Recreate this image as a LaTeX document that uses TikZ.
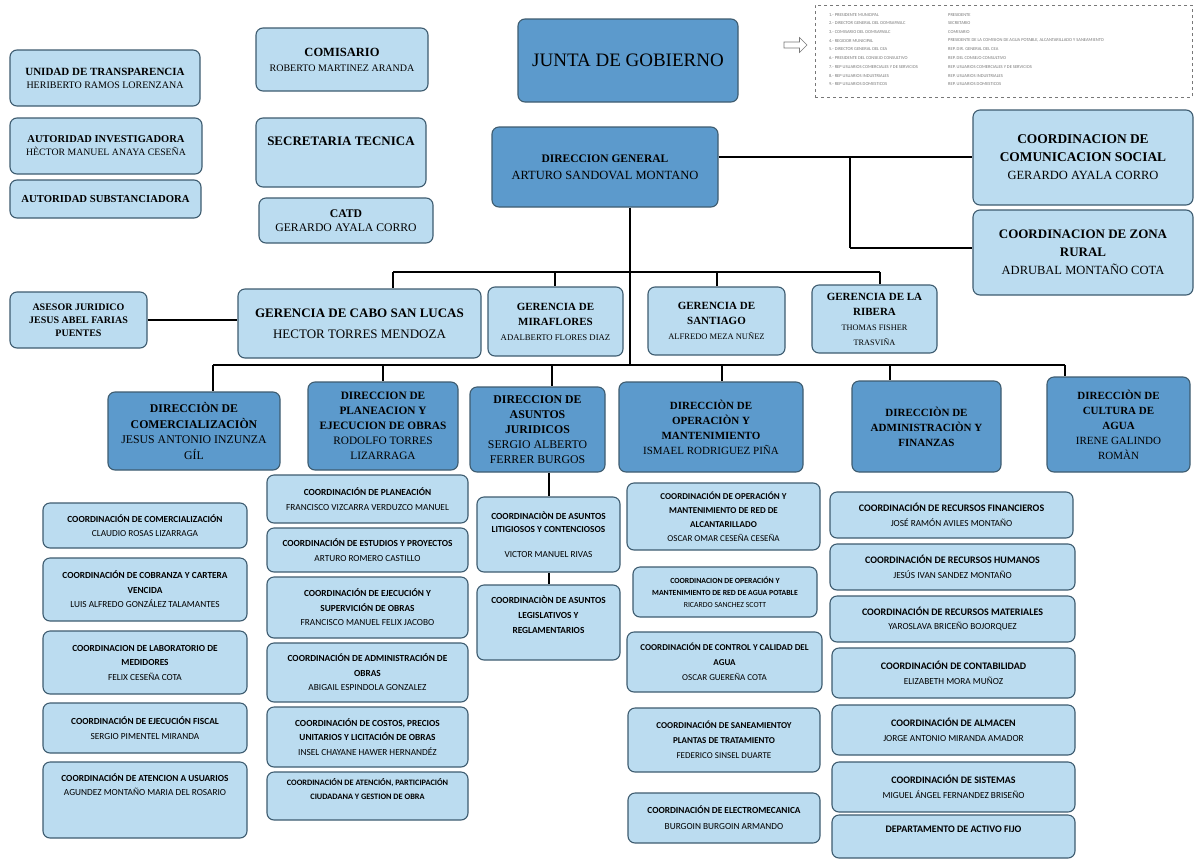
\documentclass[tikz,border=0pt]{standalone}
\usepackage{fontspec}
\setmainfont{Liberation Serif}
\newfontfamily\calfont{Carlito}
\usetikzlibrary{shapes.arrows}
\definecolor{lb}{RGB}{187,220,240}
\definecolor{db}{RGB}{92,154,204}
\definecolor{bd}{RGB}{62,92,112}
\definecolor{lg}{RGB}{120,120,120}
\newcommand\BX[7]{%
  \pgfmathsetmacro\bxw{#4-#2}\pgfmathsetmacro\bxh{#5-#3}%
  \pgfmathsetmacro\bxcx{(#2+#4)/2}\pgfmathsetmacro\bxcy{(#3+#5)/2}%
  \node[#6, minimum width=\bxw pt, minimum height=\bxh pt] (#1) at (\bxcx,\bxcy) {#7};}
\newcommand\FS[2]{\fontsize{#1}{#2}\selectfont}
\tikzset{
  base/.style={draw=bd, line width=1.1pt, rounded corners=7pt, align=center, inner sep=1pt},
  lbox/.style={base, fill=lb},
  dbox/.style={base, fill=db},
  cbox/.style={base, fill=lb, font=\calfont\FS{9.3}{14.5}},
  conn/.style={draw=black, line width=1.3pt},
  legtxt/.style={anchor=west, inner sep=0pt, text=lg, font=\calfont\FS{4.5}{5}},
}
\begin{document}
\begin{tikzpicture}[x=1pt,y=-1pt]
\fill[white] (0,0) rectangle (1195,863);
\useasboundingbox (0,0) rectangle (1195,863);

% coordinates for connectors
\coordinate (t1) at (630,272);
\coordinate (b1l) at (393,272);
\coordinate (b1r) at (880,272);
\coordinate (m1) at (555,272);
\coordinate (s1) at (717,272);
\coordinate (t2) at (630,365);
\coordinate (b2l) at (213,365);
\coordinate (b2r) at (1065,365);
\coordinate (d2) at (383,365);
\coordinate (d3) at (552,365);
\coordinate (d4) at (722,365);
\coordinate (d5) at (890,365);
\coordinate (cs1) at (850,157);
\coordinate (cs2) at (850,248);
\coordinate (jx) at (549,480);

% top-left
\BX{ut}{10}{50}{200}{106}{lbox, font=\FS{10}{13}}{{\FS{11}{13}\textbf{UNIDAD DE TRANSPARENCIA}}\\HERIBERTO RAMOS LORENZANA}
\BX{ai}{10}{118}{202}{174}{lbox, font=\FS{9.8}{13}}{{\FS{10.5}{13}\textbf{AUTORIDAD INVESTIGADORA}}\\HÈCTOR MANUEL ANAYA CESEÑA}
\BX{as}{10}{180}{201}{218}{lbox, font=\FS{10.7}{12}}{\textbf{AUTORIDAD SUBSTANCIADORA}}

\BX{com}{256}{28}{428}{91}{lbox, font=\FS{12.5}{15}}{\textbf{COMISARIO}\\{\FS{10}{11}ROBERTO MARTINEZ ARANDA}}
\BX{sec}{256}{118}{426}{187}{lbox, font=\FS{13}{15}}{\textbf{SECRETARIA TECNICA}\\\rule{0pt}{22pt}}
\BX{catd}{259}{198}{433}{243}{lbox, font=\FS{11.7}{14}}{\textbf{CATD}\\GERARDO AYALA CORRO}

\BX{junta}{518}{19}{738}{102}{dbox, font=\FS{19}{21}}{JUNTA DE GOBIERNO}
\node[single arrow, draw=lg, line width=0.6pt, fill=white, minimum height=23pt, minimum width=15pt, single arrow head extend=2pt, inner sep=1pt] (arr) at (794,45) {};
\node[draw=lg, dashed, line width=0.5pt, fill=white, minimum width=377pt, minimum height=92pt, inner sep=0pt] (leg) at (1003.5,51) {};
\foreach \t [count=\i] in {1.- PRESIDENTE MUNICIPAL, 2.- DIRECTOR GENERAL DEL OOMSAPASLC, 3.- COMISARIO DEL OOMSAPASLC, 4.- REGIDOR MUNICIPAL, 5.- DIRECTOR GENERAL DEL CEA, 6.- PRESIDENTE DEL CONSEJO CONSULTIVO, 7.- REP USUARIOS COMERCIALES Y DE SERVICIOS, 8.- REP USUARIOS INDUSTRIALES, 9.- REP USUARIOS DOMESTICOS}
  \node[legtxt] (ll\i) at (829,6+8.7*\i) {\t};
\foreach \t [count=\i] in {PRESIDENTE, SECRETARIO, COMISARIO, {PRESIDENTE DE LA COMISION DE AGUA POTABLE, ALCANTARILLADO Y SANEAMIENTO}, REP. DIR. GENERAL DEL CEA, REP. DEL CONSEJO CONSULTIVO, REP. USUARIOS COMERCIALES Y DE SERVICIOS, REP. USUARIOS INDUSTRIALES, REP. USUARIOS DOMESTICOS}
  \node[legtxt] (lr\i) at (948,6+8.7*\i) {\t};

\BX{dg}{492}{127}{718}{207}{dbox, font=\FS{12.5}{17}}{{\FS{11.5}{17}\textbf{DIRECCION GENERAL}}\\ARTURO SANDOVAL MONTANO}
\BX{ccs}{973}{110}{1193}{205}{lbox, font=\FS{12.5}{18}}{{\FS{13.4}{18}\textbf{COORDINACION DE}}\\{\FS{13.4}{18}\textbf{COMUNICACION SOCIAL}}\\GERARDO AYALA CORRO}
\BX{czr}{973}{210}{1193}{295}{lbox, font=\FS{12.5}{18}}{{\FS{13}{18}\textbf{COORDINACION DE ZONA}}\\{\FS{13}{18}\textbf{RURAL}}\\ADRUBAL MONTAÑO COTA}

% gerencias
\BX{aj}{10}{292}{147}{348}{lbox, font=\FS{10}{13}}{\textbf{ASESOR JURIDICO}\\\textbf{JESUS ABEL FARIAS}\\\textbf{PUENTES}}
\BX{gcsl}{238}{289}{481}{358}{lbox, font=\FS{13}{21}}{\textbf{GERENCIA DE CABO SAN LUCAS}\\HECTOR TORRES MENDOZA}
\BX{gmf}{488}{287}{623}{356}{lbox, font=\FS{11}{15}}{\textbf{GERENCIA DE}\\\textbf{MIRAFLORES}\\{\FS{8.7}{12}ADALBERTO FLORES DIAZ}}
\BX{gsa}{648}{287}{785}{355}{lbox, font=\FS{11}{15}}{\textbf{GERENCIA DE}\\\textbf{SANTIAGO}\\{\FS{8.5}{12}ALFREDO MEZA NUÑEZ}}
\BX{grb}{812}{285}{937}{353}{lbox, font=\FS{11}{15}}{\textbf{GERENCIA DE LA}\\\textbf{RIBERA}\\{\FS{8.3}{12}THOMAS FISHER}\\{\FS{8.3}{11}TRASVIÑA}}

% direcciones
\BX{dcom}{108}{392}{280}{470}{dbox, font=\FS{11.8}{15.5}}{\textbf{DIRECCIÒN DE}\\\textbf{COMERCIALIZACIÒN}\\JESUS ANTONIO INZUNZA\\GÍL}
\BX{dpl}{308}{382}{458}{470}{dbox, font=\FS{11.3}{15}}{\textbf{DIRECCION DE}\\\textbf{PLANEACION Y}\\\textbf{EJECUCION DE OBRAS}\\RODOLFO TORRES\\LIZARRAGA}
\BX{daj}{470}{387}{605}{472}{dbox, font=\FS{11.8}{15}}{\textbf{DIRECCION DE}\\\textbf{ASUNTOS}\\\textbf{JURIDICOS}\\SERGIO ALBERTO\\FERRER BURGOS}
\BX{dop}{619}{382}{803}{472}{dbox, font=\FS{11}{15}}{\textbf{DIRECCIÒN DE}\\\textbf{OPERACIÒN Y}\\\textbf{MANTENIMIENTO}\\ISMAEL RODRIGUEZ PIÑA}
\BX{dad}{852}{381}{1001}{472}{dbox, font=\FS{11}{15}}{\textbf{DIRECCIÒN DE}\\\textbf{ADMINISTRACIÒN Y}\\\textbf{FINANZAS}}
\BX{dcu}{1047}{377}{1190}{472}{dbox, font=\FS{11}{15}}{\textbf{DIRECCIÒN DE}\\\textbf{CULTURA DE}\\\textbf{AGUA}\\IRENE GALINDO\\ROMÀN}

% comercializacion column
\BX{c1}{43}{503}{247}{548}{cbox}{\textbf{COORDINACIÓN DE COMERCIALIZACIÓN}\\CLAUDIO ROSAS LIZARRAGA}
\BX{c2}{43}{558}{247}{621}{cbox}{\textbf{COORDINACIÓN DE COBRANZA Y CARTERA}\\\textbf{VENCIDA}\\LUIS ALFREDO GONZÁLEZ TALAMANTES}
\BX{c3}{43}{631}{247}{694}{cbox}{\textbf{COORDINACION DE LABORATORIO DE}\\\textbf{MEDIDORES}\\FELIX CESEÑA COTA}
\BX{c4}{43}{703}{247}{753}{cbox}{\textbf{COORDINACIÓN DE EJECUCIÓN FISCAL}\\SERGIO PIMENTEL MIRANDA}
\BX{c5}{43}{762}{247}{838}{cbox}{\textbf{COORDINACIÓN DE ATENCION A USUARIOS}\\AGUNDEZ MONTAÑO MARIA DEL ROSARIO\\\rule{0pt}{30pt}}

% planeacion column
\BX{p1}{267}{475}{468}{523}{cbox}{\textbf{COORDINACIÓN DE PLANEACIÓN}\\FRANCISCO VIZCARRA VERDUZCO MANUEL}
\BX{p2}{267}{528}{468}{572}{cbox}{\textbf{COORDINACIÓN DE ESTUDIOS Y PROYECTOS}\\ARTURO ROMERO CASTILLO}
\BX{p3}{267}{577}{468}{638}{cbox}{\textbf{COORDINACIÓN DE EJECUCIÓN Y}\\\textbf{SUPERVICIÓN DE OBRAS}\\FRANCISCO MANUEL FELIX JACOBO}
\BX{p4}{267}{643}{468}{702}{cbox}{\textbf{COORDINACIÓN DE ADMINISTRACIÓN DE}\\\textbf{OBRAS}\\ABIGAIL ESPINDOLA GONZALEZ}
\BX{p5}{267}{707}{468}{767}{cbox}{\textbf{COORDINACIÓN DE COSTOS, PRECIOS}\\\textbf{UNITARIOS Y LICITACIÓN DE OBRAS}\\INSEL CHAYANE HAWER HERNANDÉZ}
\BX{p6}{267}{772}{468}{820}{cbox, font=\calfont\FS{8.3}{14}}{\textbf{COORDINACIÓN DE ATENCIÓN, PARTICIPACIÓN}\\\textbf{CIUDADANA Y GESTION DE OBRA}\\\rule{0pt}{8pt}}

% juridicos column
\BX{j1}{477}{497}{620}{572}{cbox, font=\calfont\FS{9.3}{13}}{\textbf{COORDINACIÒN DE ASUNTOS}\\\textbf{LITIGIOSOS Y CONTENCIOSOS}\\[12pt]VICTOR MANUEL RIVAS}
\BX{j2}{477}{585}{620}{660}{cbox, font=\calfont\FS{9.3}{15}}{\textbf{COORDINACIÒN DE ASUNTOS}\\\textbf{LEGISLATIVOS Y}\\\textbf{REGLAMENTARIOS}\\\rule{0pt}{8pt}}

% operacion column
\BX{o1}{627}{483}{820}{550}{cbox, font=\calfont\FS{9}{14}}{\textbf{COORDINACIÓN DE OPERACIÓN Y}\\\textbf{MANTENIMIENTO DE RED DE}\\\textbf{ALCANTARILLADO}\\OSCAR OMAR CESEÑA CESEÑA}
\BX{o2}{633}{567}{817}{617}{cbox, font=\calfont\FS{7.8}{12}}{\textbf{COORDINACION DE OPERACIÓN Y}\\\textbf{MANTENIMIENTO DE RED DE AGUA POTABLE}\\RICARDO SANCHEZ SCOTT}
\BX{o3}{627}{632}{822}{692}{cbox, font=\calfont\FS{9}{15}}{\textbf{COORDINACIÓN DE CONTROL Y CALIDAD DEL}\\\textbf{AGUA}\\OSCAR GUEREÑA COTA}
\BX{o4}{628}{708}{820}{772}{cbox, font=\calfont\FS{9}{15}}{\textbf{COORDINACIÓN DE SANEAMIENTOY}\\\textbf{PLANTAS DE TRATAMIENTO}\\FEDERICO SINSEL DUARTE}
\BX{o5}{628}{793}{820}{843}{cbox, font=\calfont\FS{9.3}{16}}{\textbf{COORDINACIÓN DE ELECTROMECANICA}\\BURGOIN BURGOIN ARMANDO}

% administracion column
\BX{a1}{830}{492}{1073}{538}{cbox}{{\FS{10}{15}\textbf{COORDINACIÓN DE RECURSOS FINANCIEROS}}\\JOSÉ RAMÓN AVILES MONTAÑO}
\BX{a2}{830}{544}{1075}{590}{cbox}{{\FS{10}{15}\textbf{COORDINACIÓN DE RECURSOS HUMANOS}}\\JESÚS IVAN SANDEZ MONTAÑO}
\BX{a3}{830}{596}{1075}{642}{cbox}{{\FS{10}{15}\textbf{COORDINACIÓN DE RECURSOS MATERIALES}}\\YAROSLAVA BRICEÑO BOJORQUEZ}
\BX{a4}{832}{648}{1075}{698}{cbox}{{\FS{10}{15}\textbf{COORDINACIÓN DE CONTABILIDAD}}\\ELIZABETH MORA MUÑOZ}
\BX{a5}{832}{705}{1075}{755}{cbox}{{\FS{10}{15}\textbf{COORDINACIÓN DE ALMACEN}}\\JORGE ANTONIO MIRANDA AMADOR}
\BX{a6}{832}{762}{1075}{812}{cbox}{{\FS{10}{15}\textbf{COORDINACIÓN DE SISTEMAS}}\\MIGUEL ÁNGEL FERNANDEZ BRISEÑO}
\BX{a7}{832}{815}{1075}{858}{cbox}{{\FS{10}{15}\textbf{DEPARTAMENTO DE ACTIVO FIJO}}\\\rule{0pt}{14pt}}

% connectors
\draw[conn] (dg.south -| t1) -- (t2);
\draw[conn] (b1l) -- (b1r);
\draw[conn] (b1l) -- (b1l |- gcsl.north);
\draw[conn] (m1) -- (m1 |- gmf.north);
\draw[conn] (s1) -- (s1 |- gsa.north);
\draw[conn] (b1r) -- (b1r |- grb.north);
\draw[conn] (dg.east |- cs1) -- (cs1) -- (cs2);
\draw[conn] (cs1) -- (cs1 -| ccs.west);
\draw[conn] (cs2) -- (cs2 -| czr.west);
\draw[conn] (aj.east) -- (aj.east -| gcsl.west);
\draw[conn] (b2l) -- (b2r);
\draw[conn] (b2l) -- (b2l |- dcom.north);
\draw[conn] (d2) -- (d2 |- dpl.north);
\draw[conn] (d3) -- (d3 |- daj.north);
\draw[conn] (d4) -- (d4 |- dop.north);
\draw[conn] (d5) -- (d5 |- dad.north);
\draw[conn] (b2r) -- (b2r |- dcu.north);
\draw[conn] (jx |- daj.south) -- (jx |- j1.north);
\draw[conn] (jx |- j1.south) -- (jx |- j2.north);
\end{tikzpicture}
\end{document}
